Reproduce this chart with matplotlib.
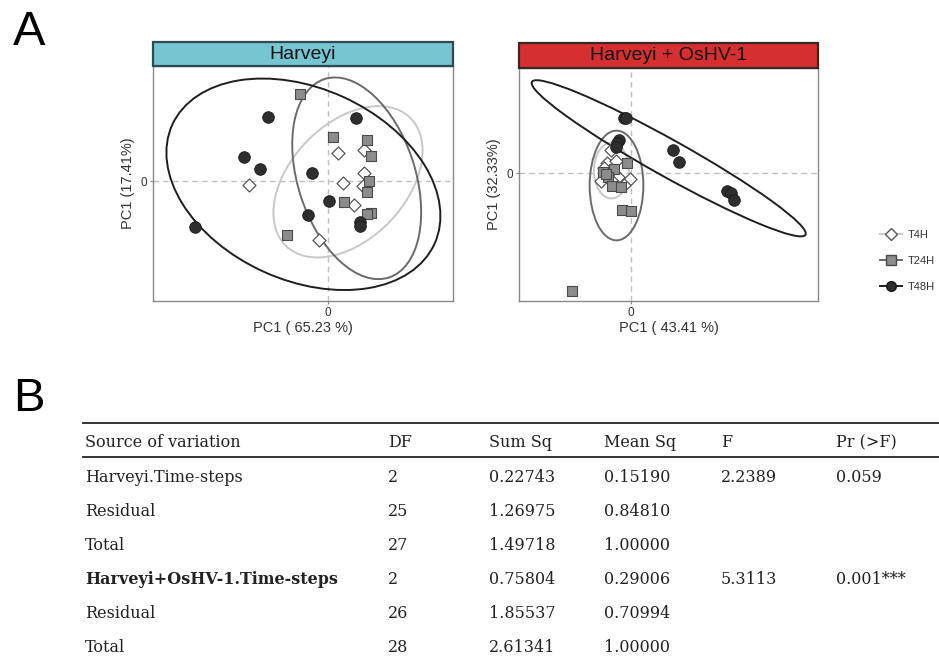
#!/usr/bin/env python3
"""PCA of Harveyi / Harveyi + OsHV-1 time-steps (A) and PERMANOVA table (B)."""

import matplotlib
matplotlib.use("Agg")
import matplotlib.pyplot as plt
from matplotlib.patches import Ellipse, Rectangle
from matplotlib.lines import Line2D

plt.rcParams["font.family"] = ["Liberation Sans", "DejaVu Sans"]

# --- Data: PCA scores (arbitrary units) ---

groups = ["T4H", "T24H", "T48H"]

# Harveyi
h_t4_x = [0.103, 0.363, 0.363, 0.157, 0.353, 0.267, -0.79, -0.09]
h_t4_y = [0.28, 0.31, 0.083, -0.023, -0.05, -0.243, -0.04, -0.59]
h_t24_x = [-0.277, 0.057, 0.397, 0.433, 0.417, 0.397, 0.16, 0.43, 0.397, -0.41]
h_t24_y = [0.87, 0.44, 0.41, 0.253, 0.0, -0.107, -0.21, -0.317, -0.327, -0.543]
h_t48_x = [-0.597, -0.84, -0.68, -0.157, 0.283, 0.017, -0.197, 0.327, 0.327, -1.327]
h_t48_y = [0.643, 0.243, 0.117, 0.077, 0.63, -0.203, -0.34, -0.41, -0.45, -0.463]

# Harveyi + OsHV-1
o_t4_x = [-0.2, -0.233, -0.143, -0.3, -0.13, -0.007, -0.267, -0.183, -0.067]
o_t4_y = [0.237, 0.103, 0.127, -0.073, -0.033, -0.053, 0.053, -0.08, -0.113]
o_t24_x = [-0.273, -0.17, -0.223, -0.19, -0.1, -0.04, -0.09, 0.003, -0.587, -0.243]
o_t24_y = [0.017, 0.047, -0.04, -0.127, -0.14, 0.1, -0.367, -0.377, -1.173, -0.007]
o_t48_x = [-0.07, -0.043, -0.117, -0.133, -0.15, 0.427, 0.487, 0.967, 1.0, 1.03]
o_t48_y = [0.55, 0.55, 0.333, 0.307, 0.267, 0.233, 0.11, -0.173, -0.2, -0.267]

# 95% ellipses: centre x, centre y, width, height, angle (deg), per group
h_ell_cx = [0.203, 0.29, -0.243]
h_ell_cy = [-0.008, 0.027, -0.033]
h_ell_w = [1.784, 2.086, 2.88]
h_ell_h = [1.154, 1.174, 1.92]
h_ell_ang = [46, 108, -24.4]

o_ell_cx = [-0.193, -0.142, 0.38]
o_ell_cy = [0.027, -0.122, 0.15]
o_ell_w = [0.35, 0.537, 3.134]
o_ell_h = [0.557, 1.097, 0.366]
o_ell_ang = [0, 0, -29.2]

pc1_h, pc2_h = 65.23, 17.41
pc1_o, pc2_o = 43.41, 32.33

# --- Data: PERMANOVA table ---
tab_header = ["Source of variation", "DF", "Sum Sq", "Mean Sq", "F", "Pr (>F)"]
tab_source = ["Harveyi.Time-steps", "Residual", "Total",
              "Harveyi+OsHV-1.Time-steps", "Residual", "Total"]
tab_df = ["2", "25", "27", "2", "26", "28"]
tab_sumsq = ["0.22743", "1.26975", "1.49718", "0.75804", "1.85537", "2.61341"]
tab_meansq = ["0.15190", "0.84810", "1.00000", "0.29006", "0.70994", "1.00000"]
tab_f = ["2.2389", "", "", "5.3113", "", ""]
tab_p = ["0.059", "", "", "0.001***", "", ""]
tab_bold = [False, False, False, True, False, False]

# --- Styles ---
ell_colors = ["#c8c8c8", "#6a6a6a", "#1e1e1e"]
mk = {
    "T4H": dict(marker="D", s=44, facecolor="white", edgecolor="#555555", linewidth=0.9),
    "T24H": dict(marker="s", s=56, facecolor="#8c8c8c", edgecolor="#4a4a4a", linewidth=0.8),
    "T48H": dict(marker="o", s=70, facecolor="#2e2e2e", edgecolor="#1a1a1a", linewidth=0.6),
}

W, H = 939, 661
fig = plt.figure(figsize=(W / 100, H / 100), dpi=100)


def px_axes(x0, y0, x1, y1):
    return fig.add_axes([x0 / W, 1 - y1 / H, (x1 - x0) / W, (y1 - y0) / H])


def panel(ax, pts, ells, xlim, ylim, xlab, ylab):
    ax.axhline(0, color="#bfbfbf", lw=1, ls=(0, (4, 3)), zorder=0)
    ax.axvline(0, color="#bfbfbf", lw=1, ls=(0, (4, 3)), zorder=0)
    cx, cy, ew, eh, ea = ells
    for i in range(3):
        ax.add_patch(Ellipse((cx[i], cy[i]), ew[i], eh[i], angle=ea[i], fill=False,
                             edgecolor=ell_colors[i], lw=1.4, zorder=1))
    for g, (x, y) in zip(groups, pts):
        ax.scatter(x, y, zorder=3, **mk[g])
    ax.set_xlim(*xlim)
    ax.set_ylim(*ylim)
    ax.set_xticks([0])
    ax.set_yticks([0])
    ax.tick_params(length=2, color="#888888", labelsize=8.5, pad=2, labelcolor="#333333")
    for sp in ax.spines.values():
        sp.set_color("#8a8a8a")
        sp.set_linewidth(1.0)
    ax.set_xlabel(xlab, fontsize=10.5, labelpad=2, color="#333333")
    ax.set_ylabel(ylab, fontsize=10.5, labelpad=4, color="#333333")


def strip(x0, y0, x1, y1, color, edge, title):
    sax = px_axes(x0, y0, x1, y1)
    sax.set_axis_off()
    sax.add_patch(Rectangle((0, 0), 1, 1, transform=sax.transAxes, facecolor=color,
                            edgecolor=edge, lw=1.6, clip_on=False))
    sax.text(0.5, 0.48, title, ha="center", va="center", fontsize=14, color="#111111",
             transform=sax.transAxes)


# --- Panel A ---
ax1 = px_axes(153, 66, 453, 301)
panel(ax1, [(h_t4_x, h_t4_y), (h_t24_x, h_t24_y), (h_t48_x, h_t48_y)],
      (h_ell_cx, h_ell_cy, h_ell_w, h_ell_h, h_ell_ang),
      (-1.747, 1.253), (-1.20, 1.15),
      f"PC1 ( {pc1_h:.2f} %)", f"PC1 ({pc2_h:.2f}%)")
strip(153, 42, 453, 66, "#76c6d2", "#2f4a50", "Harveyi")

ax2 = px_axes(519, 68, 818, 301)
panel(ax2, [(o_t4_x, o_t4_y), (o_t24_x, o_t24_y), (o_t48_x, o_t48_y)],
      (o_ell_cx, o_ell_cy, o_ell_w, o_ell_h, o_ell_ang),
      (-1.117, 1.873), (-1.277, 1.053),
      f"PC1 ( {pc1_o:.2f} %)", f"PC1 ({pc2_o:.2f}%)")
strip(519, 43, 818, 68, "#d5302f", "#3a2626", "Harveyi + OsHV-1")

handles = [Line2D([], [], color=ell_colors[i], lw=1.4, marker=mk[g]["marker"],
                  markersize=7 if g != "T4H" else 6, markerfacecolor=mk[g]["facecolor"],
                  markeredgecolor=mk[g]["edgecolor"])
           for i, g in enumerate(groups)]
fig.legend(handles, groups, loc="center left", bbox_to_anchor=(870 / W, 1 - 261 / H),
           frameon=False, fontsize=8, labelspacing=1.45, handlelength=2.0,
           handletextpad=0.5, labelcolor="#333333")

fig.text(13 / W, 1 - 45 / H, "A", fontsize=35, ha="left", va="baseline")
fig.text(13 / W, 1 - 411 / H, "B", fontsize=34, ha="left", va="baseline")

# --- Panel B: table ---
tax = fig.add_axes([0, 0, 1, 1])
tax.set_axis_off()
tax.set_xlim(0, W)
tax.set_ylim(H, 0)
tax.plot([83, W], [423, 423], color="#333333", lw=1.4)
tax.plot([83, W], [457, 457], color="#333333", lw=1.4)
col_x = [85, 388, 489, 604, 721, 836]
serif = ["DejaVu Serif"]
for x, h in zip(col_x, tab_header):
    tax.text(x, 442.5, h, fontsize=11.5, family=serif, ha="left", va="center", color="#222222")
row_y = [477, 511, 545, 580, 613, 648]
for i, y in enumerate(row_y):
    vals = [tab_source[i], tab_df[i], tab_sumsq[i], tab_meansq[i], tab_f[i], tab_p[i]]
    for j, (x, v) in enumerate(zip(col_x, vals)):
        w = "bold" if (tab_bold[i] and j == 0) else "normal"
        tax.text(x, y, v, fontsize=11.5, family=serif, fontweight=w, ha="left",
                 va="center", color="#222222")

plt.savefig("out.png", dpi=100)
